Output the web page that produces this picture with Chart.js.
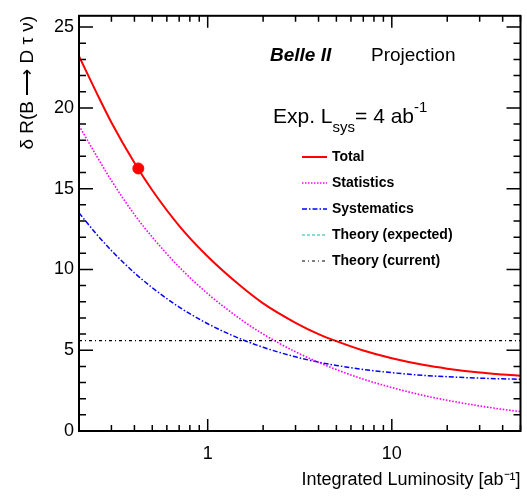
<!DOCTYPE html>
<html>
<head>
<meta charset="utf-8">
<script src="https://cdn.jsdelivr.net/npm/chart.js@4"></script>
<style>
  body { margin: 0; background: #fff; }
  canvas { display: block; }
</style>
</head>
<body>
<canvas id="chart" width="527" height="496"></canvas>
<script>
// values
const lumi = [0.2, 0.25, 0.3, 0.4, 0.5, 0.7, 1, 1.5, 2, 3, 4, 5, 7, 10, 15, 20, 30, 40, 50];
const totalErr = [23.2, 20.9, 19.1, 16.6, 14.9, 12.7, 10.8, 9.0, 7.9, 6.7, 6.0, 5.56, 4.98, 4.5, 4.08, 3.86, 3.62, 3.5, 3.42];
const statErr = [18.9, 17.0, 15.5, 13.4, 12.0, 10.15, 8.5, 6.94, 6.0, 4.9, 4.25, 3.8, 3.21, 2.69, 2.19, 1.9, 1.55, 1.34, 1.2];
const sysErr = [13.5, 12.16, 11.17, 9.79, 8.87, 7.67, 6.64, 5.71, 5.18, 4.59, 4.26, 4.06, 3.81, 3.61, 3.44, 3.36, 3.27, 3.23, 3.2];
const theoryLumi = [0.2, 50];
const theoryCurrent = [5.6, 5.6];
const theoryExpected = [];
const measLumi = [0.42];
const measErr = [16.25];

const xMajorTicks = [1, 10];
const yMajorTicks = [0, 5, 10, 15, 20, 25];

const FONT = '"Liberation Sans", Arial, Helvetica, sans-serif';

function toPoints(xs, ys) {
    return xs.map((x, i) => ({ x: x, y: ys[i] }));
}

// inward ROOT-style ticks, frame, legend and labels
const framePlugin = {
    id: 'frame',
    afterDatasetsDraw(chart) {
        const ctx = chart.ctx;
        const a = chart.chartArea;
        const xs = chart.scales.x;
        const ys = chart.scales.y;
        ctx.save();
        ctx.strokeStyle = '#000';
        ctx.lineWidth = 2;
        ctx.strokeRect(a.left, a.top, a.right - a.left, a.bottom - a.top);

        ctx.lineWidth = 1.5;
        ctx.beginPath();
        for (let v = 0; v <= 25; v++) {
            const py = ys.getPixelForValue(v);
            const len = v % 5 === 0 ? 14 : 7;
            ctx.moveTo(a.left, py); ctx.lineTo(a.left + len, py);
            ctx.moveTo(a.right, py); ctx.lineTo(a.right - len, py);
        }
        [0.1, 1, 10].forEach(d => {
            for (let k = 1; k <= 9; k++) {
                const v = k * d;
                if (v < 0.2 || v > 50) continue;
                const px = xs.getPixelForValue(v);
                const len = k === 1 ? 12 : 6;
                ctx.moveTo(px, a.bottom); ctx.lineTo(px, a.bottom - len);
                ctx.moveTo(px, a.top); ctx.lineTo(px, a.top + len);
            }
        });
        ctx.stroke();
        ctx.restore();
    },
    afterDraw(chart) {
        const ctx = chart.ctx;
        ctx.save();
        ctx.fillStyle = '#000';
        ctx.textBaseline = 'middle';
        ctx.textAlign = 'left';

        ctx.font = 'italic bold 19px ' + FONT;
        ctx.fillText('Belle II', 270, 56);
        ctx.font = '19px ' + FONT;
        ctx.fillText('Projection', 371, 56);

        ctx.textBaseline = 'alphabetic';
        ctx.font = '21px ' + FONT;
        let x = 273;
        ctx.fillText('Exp. L', x, 123);
        x += ctx.measureText('Exp. L').width;
        ctx.font = '15px ' + FONT;
        ctx.fillText('sys', x, 132);
        x += ctx.measureText('sys').width;
        ctx.font = '21px ' + FONT;
        ctx.fillText('= 4 ab', x, 123);
        x += ctx.measureText('= 4 ab').width;
        ctx.font = '15px ' + FONT;
        ctx.fillText('-1', x, 112);

        const items = [
            { label: 'Total', color: '#ff0000', dash: [], width: 2 },
            { label: 'Statistics', color: '#ff00ff', dash: [1.5, 1.5], width: 1.5 },
            { label: 'Systematics', color: '#0000ff', dash: [5, 2, 1.5, 2], width: 1.5 },
            { label: 'Theory (expected)', color: '#66cccc', dash: [3, 2], width: 1.5 },
            { label: 'Theory (current)', color: '#000000', dash: [3, 3, 1, 3], width: 1.2 }
        ];
        ctx.textBaseline = 'middle';
        ctx.font = 'bold 14px ' + FONT;
        items.forEach((it, i) => {
            const y = 157 + i * 26;
            ctx.strokeStyle = it.color;
            ctx.lineWidth = it.width;
            ctx.setLineDash(it.dash);
            ctx.beginPath();
            ctx.moveTo(302, y); ctx.lineTo(327, y);
            ctx.stroke();
            ctx.setLineDash([]);
            ctx.fillText(it.label, 332, y);
        });
        ctx.restore();
    }
};

new Chart(document.getElementById('chart'), {
    type: 'line',
    data: {
        datasets: [
            {
                label: 'Theory (current)',
                data: toPoints(theoryLumi, theoryCurrent),
                borderColor: '#000',
                borderWidth: 1.2,
                borderDash: [3, 3, 1, 3],
                pointRadius: 0
            },
            {
                label: 'Theory (expected)',
                data: theoryExpected,
                borderColor: '#66cccc',
                borderWidth: 1.5,
                borderDash: [3, 2],
                pointRadius: 0
            },
            {
                label: 'Statistics',
                data: toPoints(lumi, statErr),
                borderColor: '#ff00ff',
                borderWidth: 1.6,
                borderDash: [1.6, 1.6],
                pointRadius: 0,
                cubicInterpolationMode: 'monotone'
            },
            {
                label: 'Systematics',
                data: toPoints(lumi, sysErr),
                borderColor: '#0000ff',
                borderWidth: 1.5,
                borderDash: [5, 2, 1.5, 2],
                pointRadius: 0,
                cubicInterpolationMode: 'monotone'
            },
            {
                label: 'Total',
                data: toPoints(lumi, totalErr),
                borderColor: '#ff0000',
                borderWidth: 2,
                pointRadius: 0,
                cubicInterpolationMode: 'monotone'
            },
            {
                label: 'Measurement',
                data: toPoints(measLumi, measErr),
                showLine: false,
                pointRadius: 5.5,
                pointBackgroundColor: '#ff0000',
                pointBorderColor: '#ff0000'
            }
        ]
    },
    options: {
        responsive: false,
        animation: false,
        layout: { padding: { top: 11, right: 6, left: 0, bottom: 0 } },
        plugins: {
            legend: { display: false },
            tooltip: { enabled: false }
        },
        scales: {
            x: {
                type: 'logarithmic',
                min: 0.2,
                max: 50,
                grid: { display: false, drawTicks: false },
                border: { display: false },
                afterBuildTicks: s => { s.ticks = xMajorTicks.map(v => ({ value: v })); },
                afterFit: s => { s.height = 65; },
                ticks: {
                    autoSkip: false,
                    maxRotation: 0,
                    padding: 12,
                    color: '#000',
                    font: { family: FONT, size: 18 },
                    callback: v => String(v)
                },
                title: {
                    display: true,
                    text: 'Integrated Luminosity [ab⁻¹]',
                    align: 'end',
                    color: '#000',
                    font: { family: FONT, size: 18 },
                    padding: { top: 0, bottom: 5 }
                }
            },
            y: {
                type: 'linear',
                min: 0,
                max: 25.7,
                grid: { display: false, drawTicks: false },
                border: { display: false },
                afterBuildTicks: s => { s.ticks = yMajorTicks.map(v => ({ value: v })); },
                afterFit: s => { s.width = 79; },
                ticks: {
                    padding: 5,
                    color: '#000',
                    font: { family: FONT, size: 18 }
                },
                title: {
                    display: true,
                    text: 'δ R(B ⟶ D τ ν)',
                    align: 'end',
                    color: '#000',
                    font: { family: FONT, size: 19 },
                    padding: { top: 16, bottom: 0 }
                }
            }
        }
    },
    plugins: [framePlugin]
});
</script>
</body>
</html>
